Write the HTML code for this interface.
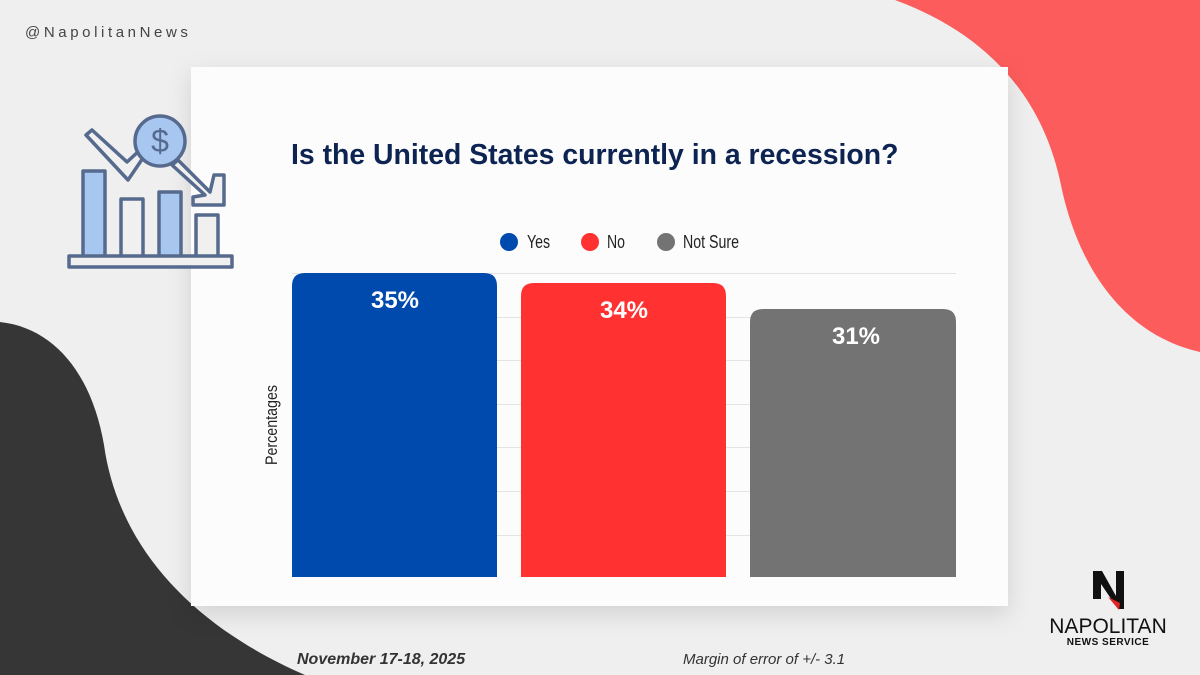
<!DOCTYPE html>
<html><head><style>
body{margin:0;width:1200px;height:675px;overflow:hidden;background:#efefef;font-family:"Liberation Sans",sans-serif;position:relative}
.abs{position:absolute}
</style></head><body>
<svg class="abs" style="left:0;top:0" width="1200" height="675">
<path d="M895,0 L1200,0 L1200,352 C1125,335 1080,270 1062,190 C1045,100 990,35 895,0 Z" fill="#fc5c5c"/>
<path d="M0,322 C55,328 92,375 104,445 C118,545 190,625 305,675 L0,675 Z" fill="#363636"/>
<rect x="191" y="67" width="817" height="539" fill="#fcfcfd" style="filter:drop-shadow(0 8px 12px rgba(0,0,0,0.12))"/>
<g stroke="#566a8e" stroke-width="3.5" stroke-linejoin="round">
<rect x="83" y="171" width="22" height="86" fill="#a7c6f0"/>
<rect x="121" y="199" width="22" height="58" fill="#f0f0f0"/>
<rect x="159" y="192" width="22" height="65" fill="#a7c6f0"/>
<rect x="196" y="215" width="22" height="42" fill="#f0f0f0"/>
<rect x="69" y="256" width="163" height="11" fill="#f0f0f0"/>
<path d="M86,135 L92,130 L127,162 L140,150 L145,155 L128,180 Z" fill="#f0f0f0"/>
<path d="M178,160 L210,192 L214,175 L224,175 L224,205 L193,205 L193,197 L205,195 L172,165 Z" fill="#f0f0f0"/>
<circle cx="160" cy="141" r="25" fill="#a7c6f0"/>
</g>
<text x="160" y="152" text-anchor="middle" font-size="32" fill="#566a8e">$</text>
<g stroke="#e4e4e4" stroke-width="1">
<line x1="292" x2="956" y1="273.5" y2="273.5"/><line x1="292" x2="956" y1="317.5" y2="317.5"/>
<line x1="292" x2="956" y1="360.5" y2="360.5"/><line x1="292" x2="956" y1="404.5" y2="404.5"/>
<line x1="292" x2="956" y1="447.5" y2="447.5"/><line x1="292" x2="956" y1="491.5" y2="491.5"/>
<line x1="292" x2="956" y1="535.5" y2="535.5"/>
</g>
<path d="M292,577 V286 Q292,273 305,273 H484 Q497,273 497,286 V577 Z" fill="#004aad"/>
<path d="M521,577 V296 Q521,283 534,283 H713 Q726,283 726,296 V577 Z" fill="#ff3131"/>
<path d="M750,577 V322 Q750,309 763,309 H943 Q956,309 956,322 V577 Z" fill="#737373"/>
<g fill="#fff" font-weight="bold" font-size="24" text-anchor="middle">
<text x="395" y="308">35%</text><text x="624" y="318">34%</text><text x="856" y="344">31%</text>
</g>
<circle cx="509" cy="242" r="9" fill="#004aad"/><circle cx="590" cy="242" r="9" fill="#ff3131"/><circle cx="666" cy="242" r="9" fill="#737373"/>
<g font-size="18" fill="#222">
<text x="527" y="248" textLength="23" lengthAdjust="spacingAndGlyphs">Yes</text>
<text x="607" y="248" textLength="18" lengthAdjust="spacingAndGlyphs">No</text>
<text x="683" y="248" textLength="56" lengthAdjust="spacingAndGlyphs">Not Sure</text>
<text transform="translate(277,425) rotate(-90)" text-anchor="middle" font-size="17" textLength="80" lengthAdjust="spacingAndGlyphs">Percentages</text>
</g>
<text x="291" y="164" font-size="28.4" font-weight="bold" fill="#0d2452">Is the United States currently in a recession?</text>
<text x="25" y="37" font-size="15" fill="#444" letter-spacing="3.6">@NapolitanNews</text>
<text x="297" y="664" font-size="16" font-weight="bold" font-style="italic" fill="#333">November 17-18, 2025</text>
<text x="683" y="664" font-size="15" font-style="italic" fill="#333">Margin of error of +/- 3.1</text>
<path d="M1093,571 h9 l14,25 v-25 h8 v38 h-6 l-17,-25 v15 h-8 Z" fill="#111"/>
<path d="M1108,597 l12,6 l-1,7 Z" fill="#e02424"/>
<text x="1108" y="633" text-anchor="middle" font-size="21" fill="#111">NAPOLITAN</text>
<text x="1108" y="645" text-anchor="middle" font-size="10" font-weight="bold" fill="#111" letter-spacing="0.5">NEWS SERVICE</text>
</svg>
</body></html>
